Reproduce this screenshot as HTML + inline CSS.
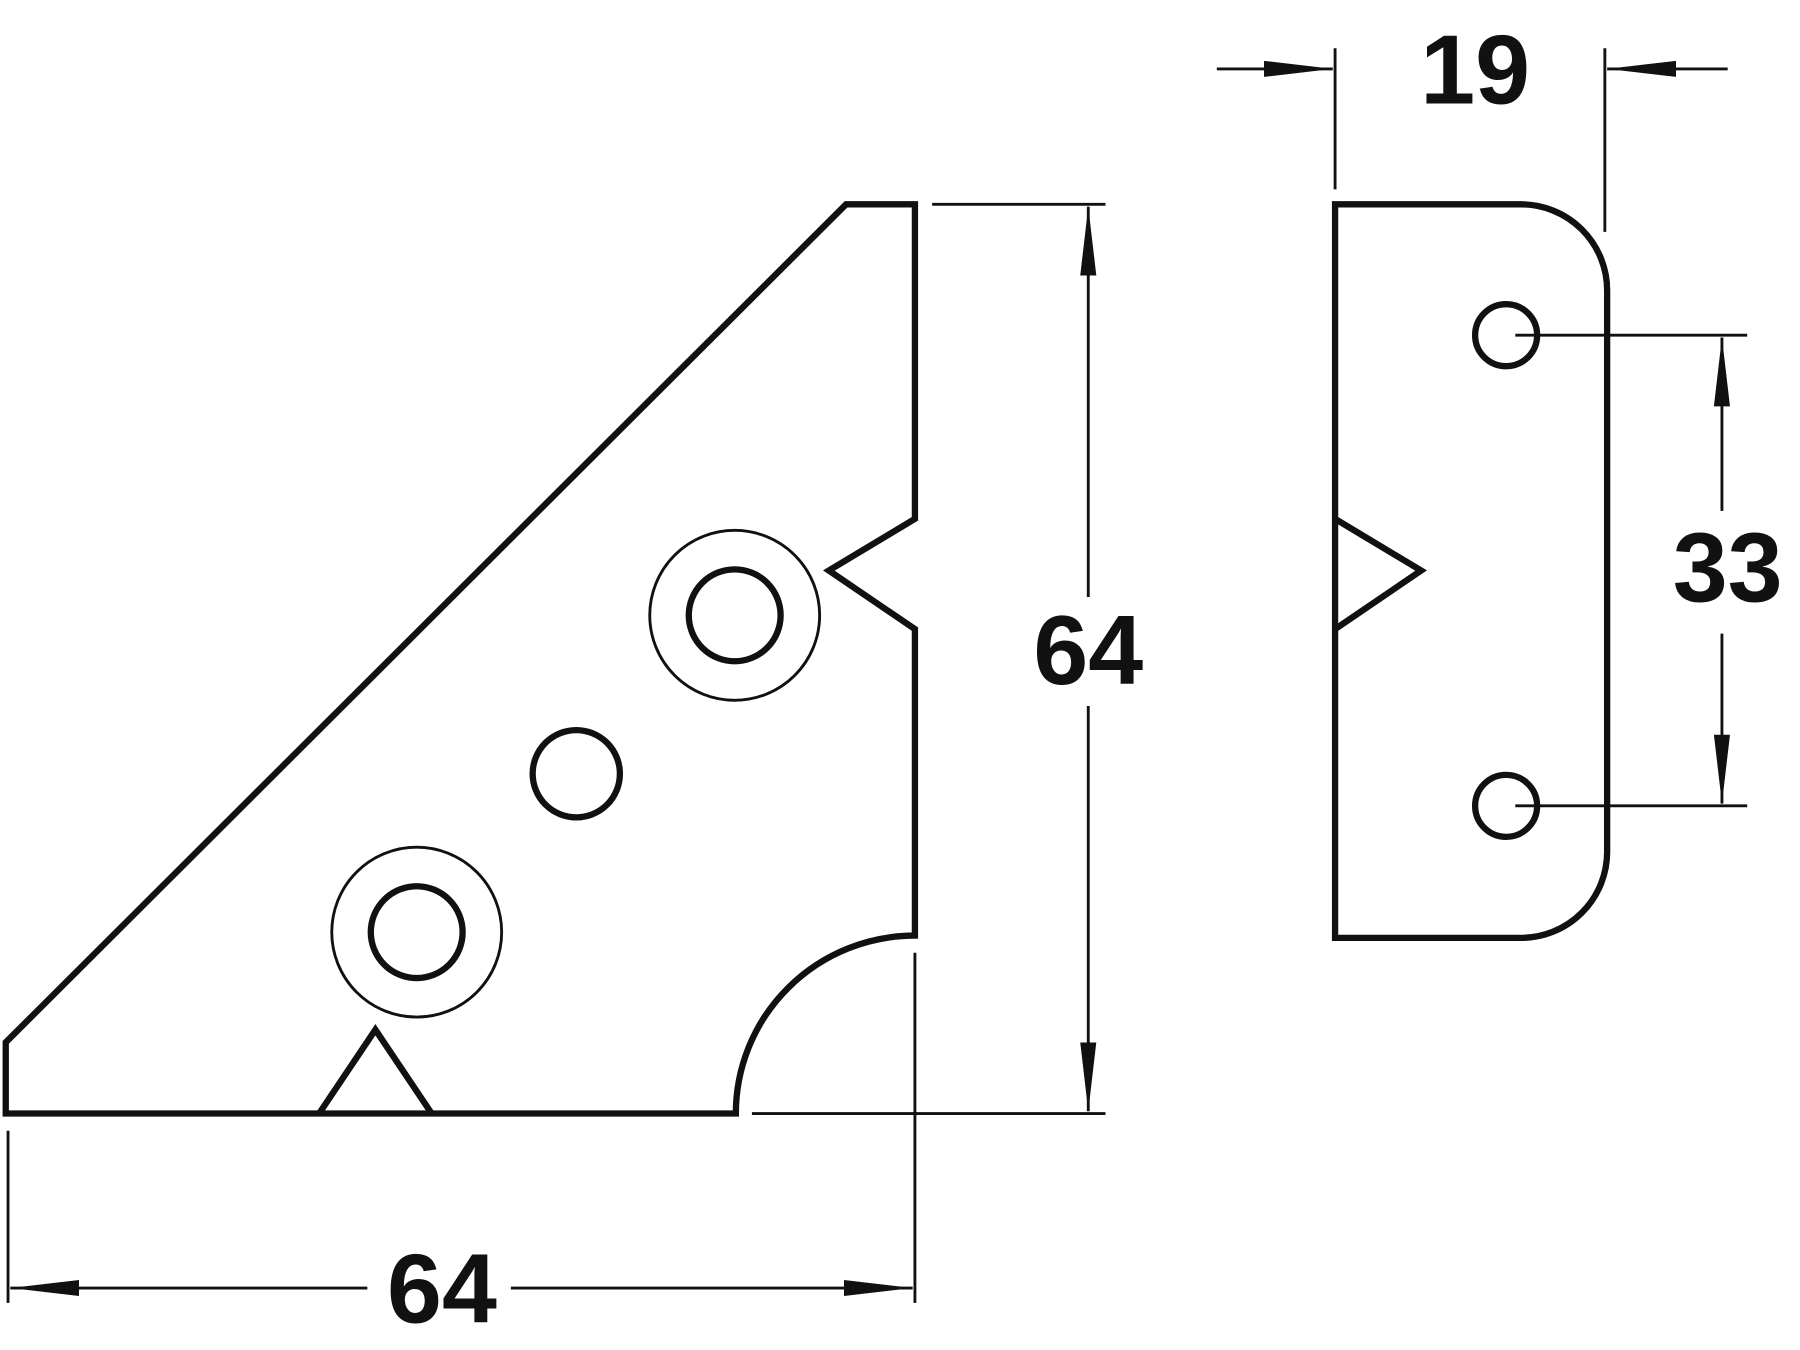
<!DOCTYPE html>
<html><head><style>html,body{margin:0;padding:0;background:#fff}svg{display:block}</style></head>
<body>
<svg width="1800" height="1350" viewBox="0 0 1568 1176" preserveAspectRatio="none" xmlns="http://www.w3.org/2000/svg">
<defs>
<marker id="a" viewBox="0 0 60 20" refX="60" refY="10" markerWidth="60" markerHeight="20" markerUnits="userSpaceOnUse" orient="auto">
<path d="M0,3 L60,10 L0,17 Z" fill="#111"/>
</marker>
</defs>
<g fill="none" stroke="#111" stroke-width="5.5" stroke-linejoin="miter">
<path d="M737,178 L797,178 L797,452 L722,497 L797,548 L797,815 A156,155 0 0 0 641,970 L5,970 L5,908 Z"/>
<path d="M278,970 L327,897 L376,970"/>
<circle cx="640" cy="536" r="40"/>
<circle cx="363" cy="812" r="40"/>
<circle cx="502" cy="674" r="38"/>
<path d="M1163,178 L1325,178 A75,75 0 0 1 1400,253 L1400,742 A75,75 0 0 1 1325,817 L1163,817 Z"/>
<path d="M1163,452 L1238,497 L1163,548"/>
<circle cx="1312" cy="292" r="27"/>
<circle cx="1312" cy="702" r="27"/>
</g>
<g fill="none" stroke="#111" stroke-width="2.5">
<circle cx="640" cy="536" r="74"/>
<circle cx="363" cy="812" r="74"/>
<line x1="812" y1="178" x2="963" y2="178"/>
<line x1="655" y1="970" x2="963" y2="970"/>
<line x1="948" y1="520" x2="948" y2="180" marker-end="url(#a)"/>
<line x1="948" y1="615" x2="948" y2="968" marker-end="url(#a)"/>
<line x1="7" y1="985" x2="7" y2="1135"/>
<line x1="797" y1="830" x2="797" y2="1135"/>
<line x1="320" y1="1122" x2="9" y2="1122" marker-end="url(#a)"/>
<line x1="445" y1="1122" x2="795" y2="1122" marker-end="url(#a)"/>
<line x1="1320" y1="292" x2="1522" y2="292"/>
<line x1="1320" y1="702" x2="1522" y2="702"/>
<line x1="1500" y1="445" x2="1500" y2="294" marker-end="url(#a)"/>
<line x1="1500" y1="552" x2="1500" y2="700" marker-end="url(#a)"/>
<line x1="1163" y1="42" x2="1163" y2="165"/>
<line x1="1398" y1="42" x2="1398" y2="202"/>
<line x1="1060" y1="60" x2="1161" y2="60" marker-end="url(#a)"/>
<line x1="1505" y1="60" x2="1400" y2="60" marker-end="url(#a)"/>
</g>
<g font-family="Liberation Sans, sans-serif" font-weight="bold" font-size="86" fill="#111" text-anchor="middle">
<text x="948" y="596">64</text>
<text x="385" y="1152">64</text>
<text x="1505" y="524">33</text>
<text x="1285" y="90">19</text>
</g>
</svg>
</body></html>
